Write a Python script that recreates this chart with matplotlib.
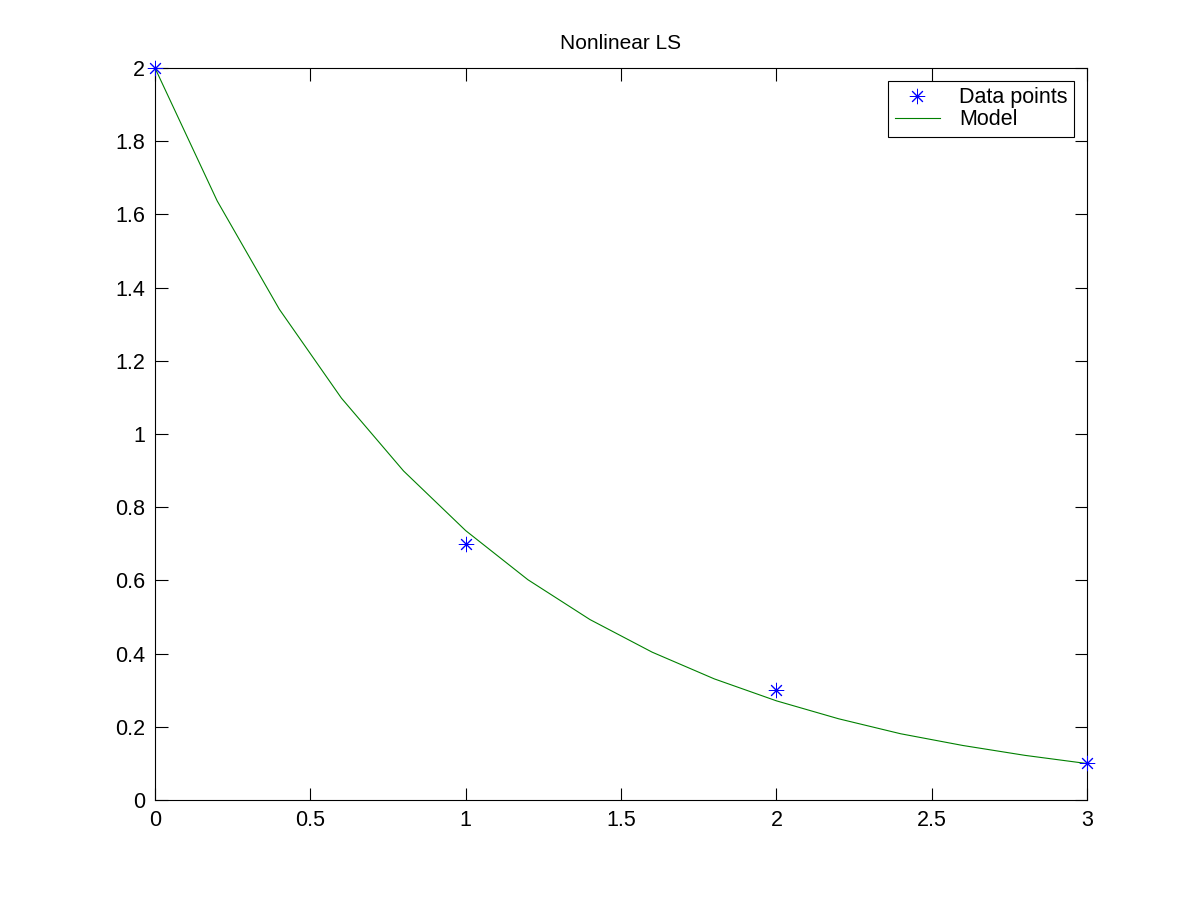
import matplotlib
matplotlib.use('Agg')
import matplotlib.pyplot as plt

plt.rcParams['font.family'] = ['Liberation Sans', 'DejaVu Sans']

# data points
x_data = [0, 1, 2, 3]
y_data = [2.0, 0.7, 0.3, 0.1]

# fitted model at 0.2 steps
x_model = [0.0, 0.2, 0.4, 0.6, 0.8, 1.0, 1.2, 1.4, 1.6, 1.8, 2.0, 2.2, 2.4, 2.6, 2.8, 3.0]
y_model = [2.0, 1.637, 1.341, 1.098, 0.899, 0.736, 0.602, 0.493, 0.404, 0.331,
           0.271, 0.222, 0.181, 0.149, 0.122, 0.0996]

x_ticks = [0, 0.5, 1, 1.5, 2, 2.5, 3]
x_labels = ['0', '0.5', '1', '1.5', '2', '2.5', '3']
y_ticks = [0, 0.2, 0.4, 0.6, 0.8, 1, 1.2, 1.4, 1.6, 1.8, 2]
y_labels = ['0', '0.2', '0.4', '0.6', '0.8', '1', '1.2', '1.4', '1.6', '1.8', '2']

fig = plt.figure(figsize=(12, 9), dpi=100)
ax = fig.add_axes([0.1292, 0.1111, 0.7767, 0.8133])

# matlab style asterisk: 8 spokes
ax.plot(x_data, y_data, linestyle='none', marker=(8, 2, 0), color='#0000ff',
        markersize=11, markeredgewidth=0.7, label='Data points', clip_on=False, zorder=3)
ax.plot(x_model, y_model, '-', color='#008000', linewidth=0.8, label='Model')

ax.set_xlim(0, 3)
ax.set_ylim(0, 2)
ax.set_xticks(x_ticks)
ax.set_xticklabels(x_labels)
ax.set_yticks(y_ticks)
ax.set_yticklabels(y_labels)
ax.tick_params(direction='in', length=9, width=0.8, top=True, right=True,
               labelsize=15.5, pad=7)
for s in ax.spines.values():
    s.set_linewidth(0.8)

ax.set_title('Nonlinear LS', fontsize=15, pad=14)

leg = ax.legend(loc='upper right', fontsize=15.5, fancybox=False, framealpha=1,
                edgecolor='black', borderpad=0.3, labelspacing=0.05,
                handlelength=2.1, handletextpad=0.9, borderaxespad=0.6)
leg.get_frame().set_linewidth(0.8)

fig.savefig('out.png', dpi=100, facecolor='white')
